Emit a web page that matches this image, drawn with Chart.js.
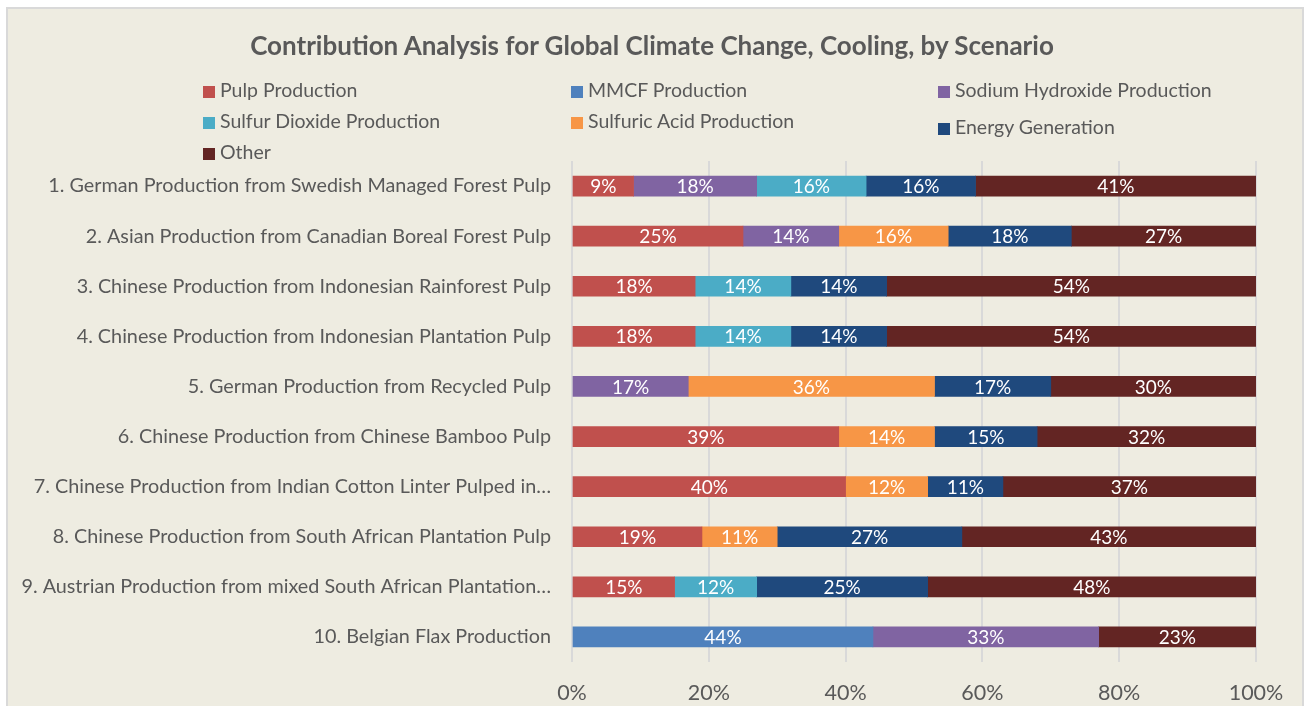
<!DOCTYPE html>
<html>
<head>
<meta charset="utf-8">
<script src="https://cdn.jsdelivr.net/npm/chart.js@4"></script>
<style>
  body { margin: 0; background: #ffffff; width: 1307px; height: 706px; overflow: hidden; position: relative; font-family: Lato, "Open Sans", sans-serif; }
  #frame { position: absolute; left: 6px; top: 7px; width: 1294px; height: 720px; background: #EEECE1; border-left: 2px solid #D9D9D9; border-top: 2px solid #D9D9D9; border-right: 2px solid #D9D9D9; }
  #grafico { position: absolute; left: 0; top: 0; }
  #titulo { position: absolute; left: 152px; width: 1000px; top: 29px; text-align: center; font-size: 26px; font-weight: bold; color: #595959; line-height: 32px; white-space: nowrap; }
  .leg { position: absolute; font-size: 19.5px; color: #595959; white-space: nowrap; line-height: 22px; }
  .leg span { display: inline-block; width: 12px; height: 12px; margin-right: 5px; vertical-align: -1px; }
</style>
</head>
<body>
<div id="frame"></div>
<canvas id="grafico" width="1307" height="706"></canvas>
<div id="titulo">Contribution Analysis for Global Climate Change, Cooling, by Scenario</div>
<div id="legenda"></div>
<script>
const cenarios = [
  '1. German Production from Swedish Managed Forest Pulp',
  '2. Asian Production from Canadian Boreal Forest Pulp',
  '3. Chinese Production from Indonesian Rainforest Pulp',
  '4. Chinese Production from Indonesian Plantation Pulp',
  '5. German Production from Recycled Pulp',
  '6. Chinese Production from Chinese Bamboo Pulp',
  '7. Chinese Production from Indian Cotton Linter Pulped in…',
  '8. Chinese Production from South African Plantation Pulp',
  '9. Austrian Production from mixed South African Plantation…',
  '10. Belgian Flax Production'
];

const series = ['Pulp Production', 'MMCF Production', 'Sodium Hydroxide Production',
  'Sulfur Dioxide Production', 'Sulfuric Acid Production', 'Energy Generation', 'Other'];
const cores = ['#C0504D', '#4F81BD', '#8064A2', '#4BACC6', '#F79646', '#1F497D', '#632523'];

const pulp      = [9, 25, 18, 18, null, 39, 40, 19, 15, null];
const mmcf      = [null, null, null, null, null, null, null, null, null, 44];
const sodium    = [18, 14, null, null, 17, null, null, null, null, 33];
const so2       = [16, null, 14, 14, null, null, null, null, 12, null];
const sulfuric  = [null, 16, null, null, 36, 14, 12, 11, null, null];
const energia   = [16, 18, 14, 14, 17, 15, 11, 27, 25, null];
const outros    = [41, 27, 54, 54, 30, 32, 37, 43, 48, 23];
const valores = [pulp, mmcf, sodium, so2, sulfuric, energia, outros];

const xTicks = [0, 20, 40, 60, 80, 100];

// legenda em 3 colunas, como no original
const legPos = [[203, 90], [571, 90], [938, 90], [203, 121], [571, 121], [938, 127], [203, 152]];
const legenda = document.getElementById('legenda');
series.forEach((nome, i) => {
  const d = document.createElement('div');
  d.className = 'leg';
  d.style.left = legPos[i][0] + 'px';
  d.style.top = (legPos[i][1] - 11) + 'px';
  d.innerHTML = '<span style="background:' + cores[i] + '"></span>' + nome;
  legenda.appendChild(d);
});

const rotulos = {
  id: 'rotulos',
  afterDatasetsDraw(chart) {
    const ctx = chart.ctx;
    ctx.save();
    ctx.fillStyle = '#ffffff';
    ctx.font = '19px Lato, "Open Sans", sans-serif';
    ctx.textAlign = 'center';
    ctx.textBaseline = 'middle';
    chart.data.datasets.forEach((ds, i) => {
      const meta = chart.getDatasetMeta(i);
      meta.data.forEach((el, j) => {
        const v = ds.data[j];
        if (!v) return;
        ctx.fillText(v + '%', (el.x + el.base) / 2, el.y + 1);
      });
    });
    ctx.restore();
  }
};

new Chart(document.getElementById('grafico').getContext('2d'), {
  type: 'bar',
  data: {
    labels: cenarios,
    datasets: series.map((nome, i) => ({
      label: nome,
      data: valores[i],
      backgroundColor: cores[i],
      barThickness: 20
    }))
  },
  options: {
    indexAxis: 'y',
    responsive: false,
    animation: false,
    layout: { padding: { left: 0, right: 51, top: 161, bottom: 0 } },
    plugins: {
      legend: { display: false },
      tooltip: { enabled: false },
      title: { display: false }
    },
    scales: {
      x: {
        stacked: true,
        min: 0,
        max: 100,
        afterBuildTicks: s => { s.ticks = xTicks.map(v => ({ value: v })); },
        afterFit: s => { s.height = 44; },
        border: { display: false },
        grid: { color: '#D9D9D9', lineWidth: 2, drawTicks: false },
        ticks: {
          color: '#595959',
          padding: 18,
          font: { family: 'Lato, "Open Sans", sans-serif', size: 21.5 },
          callback: v => v + '%'
        }
      },
      y: {
        stacked: true,
        afterFit: s => { s.width = 572; },
        border: { display: false },
        grid: { display: false, drawTicks: false },
        ticks: {
          color: '#595959',
          padding: 21,
          font: { family: 'Lato, "Open Sans", sans-serif', size: 19.8 }
        }
      }
    }
  },
  plugins: [rotulos]
});
</script>
</body>
</html>
